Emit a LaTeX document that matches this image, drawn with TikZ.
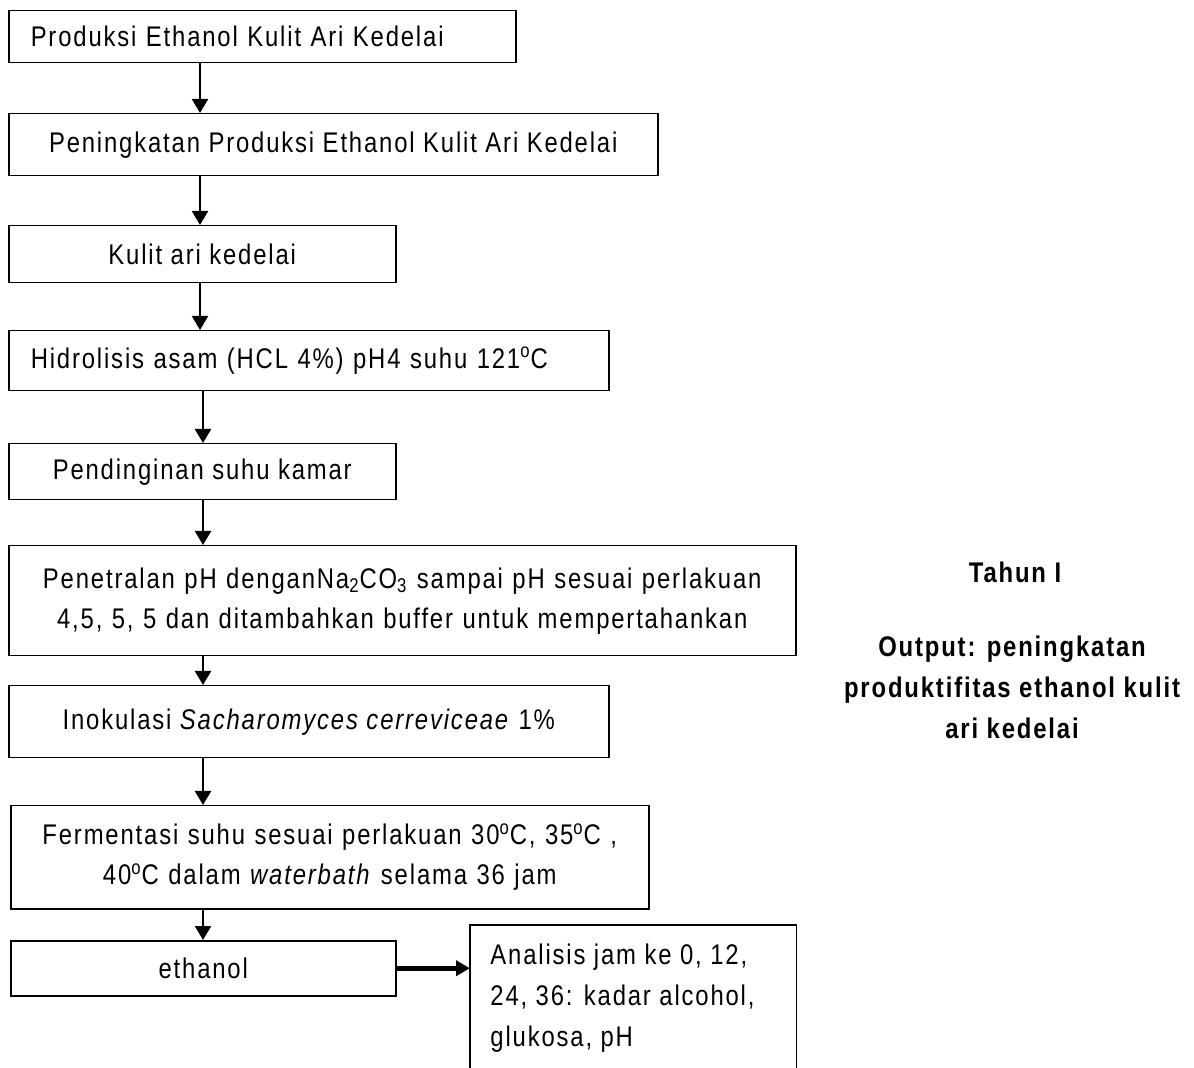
\documentclass[tikz,border=0pt]{standalone}
\usepackage{fontspec}
\setmainfont{Liberation Sans}[FakeStretch=0.84, LetterSpace=6.5]
\usetikzlibrary{arrows.meta}
\begin{document}
\begin{tikzpicture}[x=0.5pt,y=-0.5pt,
  every node/.style={font=\fontsize{14.2}{20}\selectfont},
  box/.style={draw, line width=0.75pt, anchor=north west, inner sep=0pt, align=center},
  lbox/.style={box, align=left, inner xsep=11pt},
  varr/.style={line width=1.1pt, -{Triangle[width=8pt,length=7pt]}},
  harr/.style={line width=2.5pt, -{Triangle[width=7.5pt,length=7pt]}}]
\useasboundingbox (0,0) rectangle (1194,1068);
\fill[white] (0,0) rectangle (1194,1068);

\node[lbox, text width=231.5pt, minimum height=26pt] (b1) at (8,10) {Produksi Ethanol Kulit Ari Kedelai};
\node[box, minimum width=324.5pt, minimum height=31pt] (b2) at (8,113) {Peningkatan Produksi Ethanol Kulit Ari Kedelai};
\node[box, minimum width=193.5pt, minimum height=28.5pt] (b3) at (8,225) {Kulit ari kedelai};
\node[lbox, text width=278pt, minimum height=30pt] (b4) at (8,330) {Hidrolisis asam (HCL 4\%) pH4 suhu 121\textsuperscript{o}C};
\node[box, minimum width=193.5pt, minimum height=28pt] (b5) at (8,443) {Pendinginan suhu kamar};
\node[box, text width=393.5pt, minimum height=55pt] (b6) at (8,545) {Penetralan pH denganNa\textsubscript{2}CO\textsubscript{3} sampai pH sesuai perlakuan\\4,5, 5, 5 dan ditambahkan buffer untuk mempertahankan};
\node[box, minimum width=300pt, minimum height=36pt] (b7) at (8,685) {Inokulasi \textit{Sacharomyces cerreviceae} 1\%};
\node[box, text width=319pt, minimum height=51.5pt] (b8) at (10,805) {Fermentasi suhu sesuai perlakuan 30\textsuperscript{o}C, 35\textsuperscript{o}C ,\\40\textsuperscript{o}C dalam \textit{waterbath} selama 36 jam};
\node[box, minimum width=192.5pt, minimum height=27.5pt] (b9) at (10,940) {ethanol};
\node[box, draw=none, minimum width=162.5pt, minimum height=75pt] (b10) at (470,925) {};
\node[anchor=north west, align=left, inner xsep=10pt, inner ysep=9.5pt,
  font=\fontsize{14.2}{20.5}\selectfont] (b10t) at (b10.north west)
  {Analisis jam ke 0, 12,\\24, 36: kadar alcohol,\\glukosa, pH};
\draw[line width=0.75pt] (b10.south west) -- (b10.north west) -- (b10.north east) -- (b10.south east);

\coordinate (ax) at (200,0);
\coordinate (bx) at (203,0);
\draw[varr] (b1.south -| ax) -- (b2.north -| ax);
\draw[varr] (b2.south -| ax) -- (b3.north -| ax);
\draw[varr] (b3.south -| ax) -- (b4.north -| ax);
\draw[varr] (b4.south -| bx) -- (b5.north -| bx);
\draw[varr] (b5.south -| bx) -- (b6.north -| bx);
\draw[varr] (b6.south -| bx) -- (b7.north -| bx);
\draw[varr] (b7.south -| bx) -- (b8.north -| bx);
\draw[varr] (b8.south -| bx) -- (b9.north -| bx);
\draw[harr] (b9.east) -- (b9.east -| b10.west);

\node[font=\fontsize{14.2}{20.5}\selectfont\bfseries] (tahun) at (1015,572) {Tahun I};
\node[align=center, font=\fontsize{14.2}{20.5}\selectfont\bfseries] (out) at (1012,687)
  {Output: peningkatan\\produktifitas ethanol kulit\\ari kedelai};
\end{tikzpicture}
\end{document}
